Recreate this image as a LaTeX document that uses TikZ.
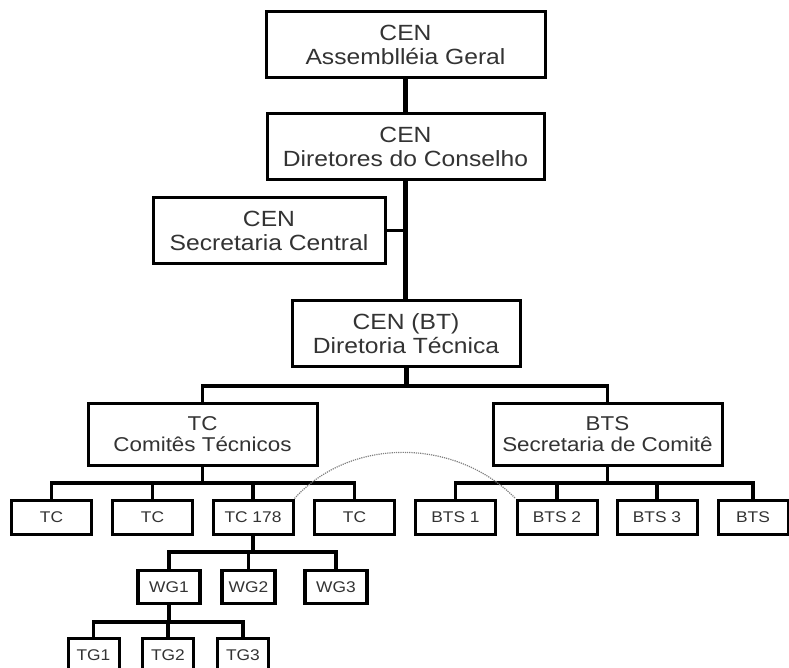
\documentclass[tikz,border=0pt]{standalone}
\usepackage{fontspec}
\setmainfont{Liberation Sans}[FakeStretch=1.12]
\tikzset{
  orgbox/.style={draw, line width=3pt, fill=white, align=center, inner sep=0pt, text=black!80},
  bigbox/.style={orgbox, minimum height=66pt, font=\fontsize{22}{24}\selectfont},
  midbox/.style={orgbox, minimum width=229pt, minimum height=62pt, font=\fontsize{20}{21.5}\selectfont},
  smallbox/.style={orgbox, minimum width=80pt, minimum height=34pt, font=\fontsize{15.5}{17}\selectfont},
  wgbox/.style={smallbox, line width=3.6pt, minimum height=33pt},
  tgbox/.style={smallbox, minimum width=51pt},
  trunk/.style={line width=5pt},
  bus/.style={line width=3.2pt},
  arcline/.style={gray, densely dotted, line width=1.2pt}
}
\begin{document}
\begin{tikzpicture}[x=1pt, y=-1pt]
  \useasboundingbox (0,0) rectangle (789,668);

  % CEN
  \node[bigbox, minimum width=279pt] (ag) at (405.5,44.5) {CEN\\Assemblléia Geral};
  \node[bigbox, minimum width=277pt] (dc) at (405.5,146.5) {CEN\\Diretores do Conselho};
  \node[bigbox, minimum width=232pt, minimum height=65pt] (sc) at (269,230.5) {CEN\\Secretaria Central};
  \node[bigbox, minimum width=228pt] (dt) at (406,333.5) {CEN (BT)\\Diretoria Técnica};

  % Comites e secretaria
  \node[midbox] (ct) at (202.5,434) {TC\\Comitês Técnicos};
  \node[midbox] (bts) at (607.5,434) {BTS\\Secretaria de Comitê};

  % TC row
  \node[smallbox] (tc1) at (51.5,517) {TC};
  \node[smallbox] (tc2) at (152.5,517) {TC};
  \node[smallbox] (tc178) at (253,517) {TC 178};
  \node[smallbox] (tc4) at (354.5,517) {TC};

  % BTS row
  \node[smallbox] (bts1) at (455.5,517) {BTS 1};
  \node[smallbox] (bts2) at (557,517) {BTS 2};
  \node[smallbox] (bts3) at (657,517) {BTS 3};
  \node[smallbox, minimum width=70pt] (bts4) at (753,517) {BTS};

  % WG
  \node[wgbox, minimum width=62pt] (wg1) at (169,587) {WG1};
  \node[wgbox, minimum width=53pt] (wg2) at (248.5,587) {WG2};
  \node[wgbox, minimum width=62pt] (wg3) at (336,587) {WG3};

  % TG
  \node[tgbox] (tg1) at (93.5,655) {TG1};
  \node[tgbox] (tg2) at (168,655) {TG2};
  \node[tgbox] (tg3) at (243,655) {TG3};

  % Top connectors
  \draw[trunk] (ag.south) -- (dc.north);
  \draw[trunk] (dc.south) -- (dc.south |- dt.north);
  \draw[bus] (sc.east) -- (sc.east -| dc.south);

  % Diretoria to comites
  \coordinate (dtj) at (406,386);
  \draw[trunk] (dt.south) -- (dtj);
  \draw[bus] (ct.north) |- (dtj) -| (bts.north);

  % Comites to rows
  \coordinate (ctj) at (202.5,483);
  \coordinate (btsj) at (607.5,483);
  \draw[bus] (ct.south) -- (ctj);
  \draw[bus] (bts.south) -- (btsj);
  \foreach \c in {tc1,tc2,tc178,tc4}
    \draw[bus] (ctj) -| (\c.north);
  \foreach \c in {bts1,bts2,bts3,bts4}
    \draw[bus] (btsj) -| (\c.north);

  % TC 178 to WG, WG1 to TG
  \coordinate (tcj) at (253,552);
  \draw[bus] (tc178.south) -- (tcj);
  \foreach \c in {wg1,wg2,wg3}
    \draw[bus] (tcj) -| (\c.north);
  \coordinate (wgj) at (169,622);
  \draw[bus] (wg1.south) -- (wgj);
  \foreach \c in {tg1,tg2,tg3}
    \draw[bus] (wgj) -| (\c.north);

  % Dotted link
  \draw[arcline] (tc178.north east) .. controls (350,437) and (455,437) .. (bts2.north west);
\end{tikzpicture}
\end{document}
